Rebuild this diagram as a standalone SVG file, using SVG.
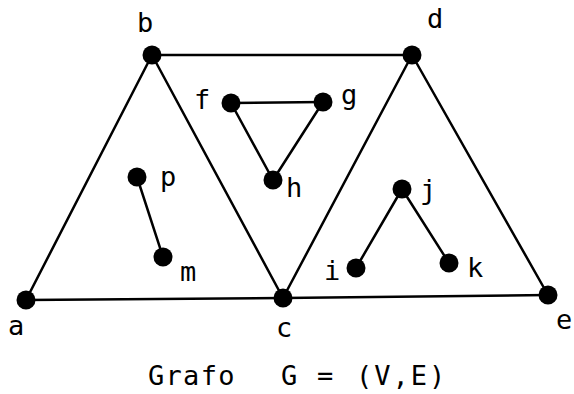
<svg xmlns="http://www.w3.org/2000/svg" width="574" height="394" viewBox="0 0 574 394">
<style>
.e{stroke:#000;stroke-width:2.5;fill:none;stroke-linecap:round}
.n{fill:#000}
.l{font-family:"DejaVu Sans Mono","Liberation Mono",monospace;font-size:27px;fill:#000}
.t{font-family:"DejaVu Sans Mono","Liberation Mono",monospace;font-size:27px;fill:#000}
</style>
<rect width="574" height="394" fill="#fff"/>
<g id="edges">
<line class="e" x1="26" y1="300" x2="152" y2="55"/>
<line class="e" x1="26" y1="300" x2="283" y2="298"/>
<line class="e" x1="152" y1="55" x2="283" y2="298"/>
<line class="e" x1="152" y1="55" x2="412" y2="55"/>
<line class="e" x1="283" y1="298" x2="412" y2="55"/>
<line class="e" x1="283" y1="298" x2="548" y2="295"/>
<line class="e" x1="412" y1="55" x2="548" y2="295"/>
<line class="e" x1="231" y1="103" x2="323" y2="102"/>
<line class="e" x1="231" y1="103" x2="273" y2="180"/>
<line class="e" x1="323" y1="102" x2="273" y2="180"/>
<line class="e" x1="137" y1="177" x2="163" y2="257"/>
<line class="e" x1="402" y1="189" x2="356" y2="268"/>
<line class="e" x1="402" y1="189" x2="449" y2="263"/>
</g>
<g id="a"><circle class="n" cx="26" cy="300" r="9.5"/><text class="l" x="8" y="335">a</text></g>
<g id="b"><circle class="n" cx="152" cy="55" r="9.5"/><text class="l" x="137" y="32">b</text></g>
<g id="c"><circle class="n" cx="283" cy="298" r="9.5"/><text class="l" x="276" y="337">c</text></g>
<g id="d"><circle class="n" cx="412" cy="55" r="9.5"/><text class="l" x="427" y="28">d</text></g>
<g id="e"><circle class="n" cx="548" cy="295" r="9.5"/><text class="l" x="556" y="329">e</text></g>
<g id="f"><circle class="n" cx="231" cy="103" r="9.5"/><text class="l" x="194" y="109">f</text></g>
<g id="g"><circle class="n" cx="323" cy="102" r="9.5"/><text class="l" x="341" y="104">g</text></g>
<g id="h"><circle class="n" cx="273" cy="180" r="9.5"/><text class="l" x="286" y="197">h</text></g>
<g id="p"><circle class="n" cx="137" cy="177" r="9.5"/><text class="l" x="160" y="186">p</text></g>
<g id="m"><circle class="n" cx="163" cy="257" r="9.5"/><text class="l" x="180" y="281">m</text></g>
<g id="j"><circle class="n" cx="402" cy="189" r="9.5"/><text class="l" x="420" y="199">j</text></g>
<g id="i"><circle class="n" cx="356" cy="268" r="9.5"/><text class="l" x="324" y="280">i</text></g>
<g id="k"><circle class="n" cx="449" cy="263" r="9.5"/><text class="l" x="467" y="277">k</text></g>
<g id="title">
<text class="t" y="385"><tspan x="148" letter-spacing="1.3">Grafo</tspan><tspan x="281">G</tspan><tspan x="317">=</tspan><tspan x="356" letter-spacing="2">(V,E)</tspan></text>
</g>
</svg>
